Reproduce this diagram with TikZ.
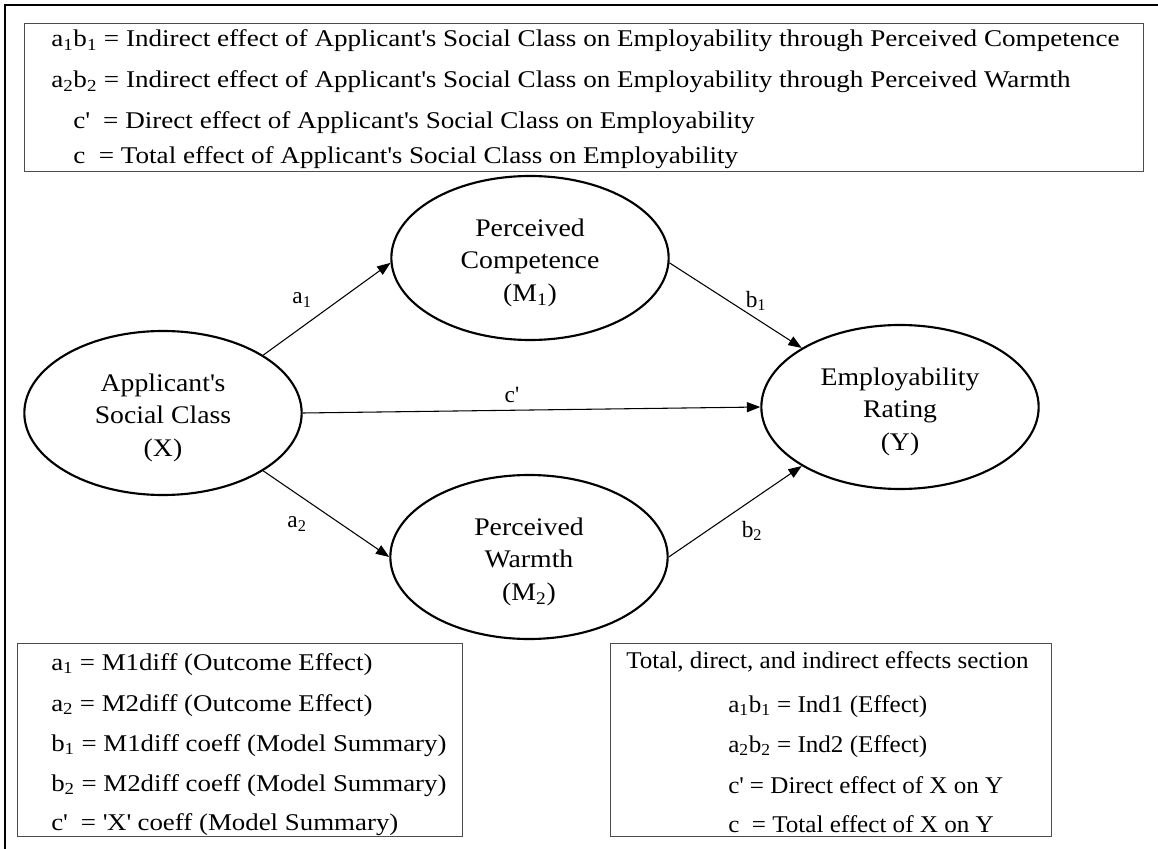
\documentclass[tikz,border=0pt]{standalone}
\usepackage{fontspec}
\setmainfont{Liberation Serif}
% slightly widened cuts of the serif face for the different text groups
\newfontfamily\topfamily{Liberation Serif}[FakeStretch=1.13]
\newfontfamily\leftfamily{Liberation Serif}[FakeStretch=1.12]
\newfontfamily\rightfamily{Liberation Serif}[FakeStretch=1.045]
\newfontfamily\varfamily{Liberation Serif}[FakeStretch=1.095]
\usetikzlibrary{shapes.geometric,arrows.meta}

\newcommand\ap{\textquotesingle}
\newcommand\sub[1]{\textsubscript{#1}}
% strut that lowers the text block inside the ellipses a little
\newcommand\toppad{\rule{0pt}{20.5pt}}

\begin{document}
\begin{tikzpicture}[x=0.75pt,y=-0.75pt,
  frame/.style={line width=2pt},
  legend/.style={draw=black!70, line width=1pt, inner sep=0pt, anchor=north west},
  var/.style={ellipse, draw, line width=1.6pt, minimum width=208pt, minimum height=123pt,
    inner sep=0pt, align=center, font=\varfamily\fontsize{19}{24.5}\selectfont},
  path/.style={-{Triangle[length=10pt,width=7.5pt]}, line width=0.8pt},
  lbl/.style={inner sep=0pt, font=\fontsize{17.5}{20}\selectfont},
  txt/.style={anchor=base west, inner sep=0pt},
  toptxt/.style={txt, font=\topfamily\fontsize{18}{22}\selectfont},
  lefttxt/.style={txt, font=\leftfamily\fontsize{18}{22}\selectfont},
  righttxt/.style={txt, font=\rightfamily\fontsize{18}{22}\selectfont},
]
\useasboundingbox (0,0) rectangle (1158,849);

% outer frame (top and left edges)
\draw[frame] (5,849) -- (5,5) -- (1158,5);

% legend boxes
\node[legend, minimum width=839.25pt, minimum height=111pt] (topbox) at (24,23) {};
\node[legend, minimum width=333.75pt, minimum height=144.75pt] (leftbox) at (17,643) {};
\node[legend, minimum width=330.75pt, minimum height=144.75pt] (rightbox) at (610,643) {};

% definitions of the effects
\node[toptxt] (t1) at (51,47) {a\sub{1}b\sub{1} = Indirect effect of Applicant\ap s Social Class on Employability through Perceived Competence};
\node[toptxt] (t2) at (51,88) {a\sub{2}b\sub{2} = Indirect effect of Applicant\ap s Social Class on Employability through Perceived Warmth};
\node[toptxt] (t3) at (73,128) {c\ap\ \ = Direct effect of Applicant\ap s Social Class on Employability};
\node[toptxt] (t4) at (73,164) {c\ \ = Total effect of Applicant\ap s Social Class on Employability};

% variables
\node[var] (X)  at (163,413) {\toppad Applicant\ap s\\Social Class\\(X)};
\node[var] (M1) at (530,258) {\toppad Perceived\\Competence\\(M\sub{1})};
\node[var] (M2) at (529,557) {\toppad Perceived\\Warmth\\(M\sub{2})};
\node[var] (Y)  at (900,407) {\toppad Employability\\Rating\\(Y)};

% paths
\draw[path] (X.30) -- (M1.182);
\draw[path] (M1.358) -- (Y.149);
\draw[path] (X.east) -- (Y.west);
\draw[path] (X.330) -- (M2.west);
\draw[path] (M2.east) -- (Y.211);

\node[lbl] (la1) at (302,300) {a\sub{1}};
\node[lbl] (lb1) at (756,301) {b\sub{1}};
\node[lbl] (lc)  at (512,395) {c\ap};
\node[lbl] (la2) at (297,524) {a\sub{2}};
\node[lbl] (lb2) at (752,531) {b\sub{2}};

% output locations
\node[lefttxt] (l1) at (51,670) {a\sub{1} = M1diff (Outcome Effect)};
\node[lefttxt] (l2) at (51,711) {a\sub{2} = M2diff (Outcome Effect)};
\node[lefttxt] (l3) at (51,751) {b\sub{1} = M1diff coeff (Model Summary)};
\node[lefttxt] (l4) at (51,791) {b\sub{2} = M2diff coeff (Model Summary)};
\node[lefttxt] (l5) at (51,830) {c\ap\ \ = \ap X\ap\ coeff (Model Summary)};

\node[righttxt] (r0) at (626,668) {Total, direct, and indirect effects section};
\node[righttxt] (r1) at (728,712) {a\sub{1}b\sub{1} = Ind1 (Effect)};
\node[righttxt] (r2) at (728,752) {a\sub{2}b\sub{2} = Ind2 (Effect)};
\node[righttxt] (r3) at (728,793) {c\ap\ = Direct effect of X on Y};
\node[righttxt] (r4) at (728,832) {c\ \ = Total effect of X on Y};
\end{tikzpicture}
\end{document}
